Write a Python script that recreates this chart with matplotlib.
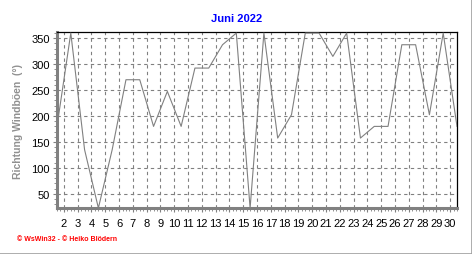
import matplotlib
matplotlib.use("Agg")
import matplotlib.pyplot as plt
from matplotlib.lines import Line2D
from matplotlib.ticker import MultipleLocator
import numpy as np

# daily wind gust direction, June 2022
days = list(range(1, 31))
direction = [180, 360, 135, 22.5, 135, 270, 270, 180, 247.5, 180,
             292.5, 292.5, 337.5, 360, 22.5, 360, 157.5, 202.5, 360, 360,
             315, 360, 157.5, 180, 180, 337.5, 337.5, 202.5, 360, 180]
day_labels = [str(d) for d in range(2, 31)]
y_ticks = [50, 100, 150, 200, 250, 300, 350]

title = "Juni 2022"
y_label = "Richtung Windböen  (°)"
footer = "© WsWin32 - © Heiko Blödern"

plt.rcParams['font.family'] = ['Liberation Sans', 'DejaVu Sans']

fig = plt.figure(figsize=(4.72, 2.55), dpi=100)
W, H = 472, 255
left, right, top, bottom = 57, 457, 33.3, 209.3
ax = fig.add_axes([left / W, 1 - bottom / H, (right - left) / W, (bottom - top) / H])

ax.plot(days, direction, color='#808080', lw=0.8, zorder=3)

ax.set_xlim(1, 30)
ax.set_ylim(22, 361.5)

# grid lines sit half a day before each labelled day
grid_x = [d - 0.5 for d in range(2, 31)]
ax.set_xticks(grid_x)
ax.set_xticklabels(day_labels)
ax.xaxis.set_minor_locator(MultipleLocator(0.25))
ax.set_yticks(y_ticks)
ax.yaxis.set_minor_locator(MultipleLocator(10))

ax.grid(True, which='major', color='#808080', linestyle=(0, (3, 3)), lw=0.8)

ax.tick_params(axis='both', which='major', labelsize=8, colors='#808080',
               labelcolor='black', length=3, width=0.8, pad=2)
ax.tick_params(axis='both', which='minor', colors='#808080', length=2, width=0.6)
ax.tick_params(axis='x', pad=4)

for s in ['left', 'bottom']:
    ax.spines[s].set_color('#808080')
    ax.spines[s].set_linewidth(2.2)
for s in ['top', 'right']:
    ax.spines[s].set_color('black')
    ax.spines[s].set_linewidth(0.9)

ax.set_ylabel(y_label, color='#909090', fontsize=7.5, fontweight='bold', labelpad=6)

fig.text(237 / W, 1 - 19 / H, title, color='#0000ff', fontsize=8, fontweight='bold',
         ha='center', va='center')
fig.text(17 / W, 1 - 240 / H, footer, color='#ff0000', fontsize=5, fontweight='bold',
         ha='left', va='center')

# grey frame on the right and bottom edge
fig.add_artist(Line2D([0, 1], [0.5 / H, 0.5 / H], transform=fig.transFigure,
                      color='#a0a0a0', lw=1.2))
fig.add_artist(Line2D([1 - 0.5 / W, 1 - 0.5 / W], [0, 1], transform=fig.transFigure,
                      color='#a0a0a0', lw=1.2))

fig.savefig("out.png", dpi=100)
